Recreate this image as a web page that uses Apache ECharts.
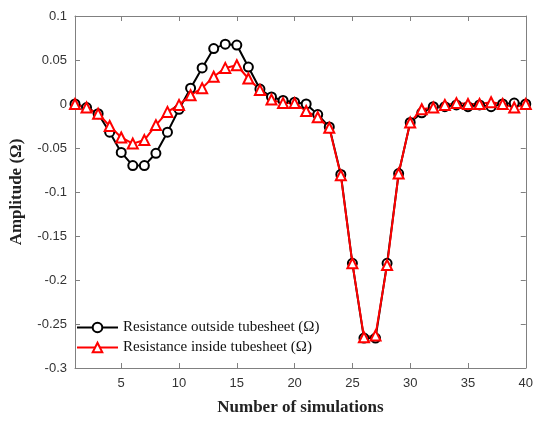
<!DOCTYPE html>
<html>
<head>
<meta charset="utf-8">
<script src="https://cdn.jsdelivr.net/npm/echarts@6/dist/echarts.min.js"></script>
<style>html,body{margin:0;padding:0;background:#fff;}#c{width:536px;height:421px;}</style>
</head>
<body>
<div id="c"></div>
<script>
const simulations = Array.from({length: 40}, (_, i) => i + 1);
const outsideValues = [0, -0.004, -0.011, -0.032, -0.055, -0.070, -0.070, -0.056, -0.032, -0.006,
  0.018, 0.041, 0.063, 0.068, 0.067, 0.042, 0.017, 0.008, 0.004, 0.002,
  0.000, -0.012, -0.026, -0.080, -0.181, -0.266, -0.266, -0.181, -0.079, -0.021,
  -0.010, -0.003, -0.003, -0.001, -0.003, -0.001, -0.003, 0.000, 0.001, 0.000];
const insideValues = [0, -0.004, -0.011, -0.025, -0.038, -0.045, -0.041, -0.024, -0.009, -0.001,
  0.010, 0.018, 0.031, 0.041, 0.044, 0.029, 0.016, 0.005, 0.001, 0.001,
  -0.008, -0.015, -0.027, -0.081, -0.181, -0.265, -0.263, -0.183, -0.079, -0.021,
  -0.006, -0.004, -0.001, 0.001, 0.000, 0.000, 0.002, 0.000, -0.004, 0.000];
const xTickLabels = [5, 10, 15, 20, 25, 30, 35, 40];
const yTicks = [-0.3, -0.25, -0.2, -0.15, -0.1, -0.05, 0, 0.05, 0.1];

const chart = echarts.init(document.getElementById('c'));
const axisLineStyle = {color: '#808080', width: 1};
const labelStyle = {fontFamily: 'Liberation Sans, Arial', fontSize: 13, color: '#333'};
chart.setOption({
  animation: false,
  grid: {left: 70, right: 9, top: 16, bottom: 45, containLabel: false},
  legend: {
    left: 71, top: 315, orient: 'vertical', itemWidth: 41, itemHeight: 12, itemGap: 5,
    textStyle: {fontFamily: 'Liberation Serif, Times New Roman', fontSize: 15, color: '#111'},
    data: ['Resistance outside tubesheet (Ω)', 'Resistance inside tubesheet (Ω)']
  },
  xAxis: [{
    type: 'value', min: 1, max: 40, position: 'bottom',
    name: 'Number of simulations', nameLocation: 'middle', nameGap: 31,
    nameTextStyle: {fontFamily: 'Liberation Serif, Times New Roman', fontWeight: 'bold', fontSize: 17, color: '#222'},
    axisLine: {show: true, onZero: false, lineStyle: axisLineStyle},
    axisTick: {show: true, inside: true, length: 5, customValues: xTickLabels, lineStyle: axisLineStyle},
    axisLabel: Object.assign({customValues: xTickLabels, margin: 9}, labelStyle),
    splitLine: {show: false}
  }, {
    type: 'value', min: 1, max: 40, position: 'top',
    axisLine: {show: true, onZero: false, lineStyle: axisLineStyle},
    axisTick: {show: true, inside: true, length: 5, customValues: xTickLabels, lineStyle: axisLineStyle},
    axisLabel: {show: false}, splitLine: {show: false}
  }],
  yAxis: [{
    type: 'value', min: -0.3, max: 0.1, interval: 0.05, position: 'left',
    name: 'Amplitude (Ω)', nameLocation: 'middle', nameGap: 50, nameRotate: 90,
    nameTextStyle: {fontFamily: 'Liberation Serif, Times New Roman', fontWeight: 'bold', fontSize: 17, color: '#222'},
    axisLine: {show: true, onZero: false, lineStyle: axisLineStyle},
    axisTick: {show: true, inside: true, length: 5, lineStyle: axisLineStyle},
    axisLabel: Object.assign({margin: 8, formatter: v => String(Math.round(v * 100) / 100)}, labelStyle),
    splitLine: {show: false}
  }, {
    type: 'value', min: -0.3, max: 0.1, interval: 0.05, position: 'right',
    axisLine: {show: true, onZero: false, lineStyle: axisLineStyle},
    axisTick: {show: true, inside: true, length: 5, lineStyle: axisLineStyle},
    axisLabel: {show: false}, splitLine: {show: false}
  }],
  series: [{
    name: 'Resistance outside tubesheet (Ω)', type: 'line',
    data: simulations.map((s, i) => [s, outsideValues[i]]),
    symbol: 'circle', symbolSize: 9, showAllSymbol: true,
    lineStyle: {color: '#000', width: 2},
    itemStyle: {color: '#fff', borderColor: '#000', borderWidth: 2},
    color: '#000'
  }, {
    name: 'Resistance inside tubesheet (Ω)', type: 'line',
    data: simulations.map((s, i) => [s, insideValues[i]]),
    symbol: 'triangle', symbolSize: 10, showAllSymbol: true,
    lineStyle: {color: '#ff0000', width: 2},
    itemStyle: {color: '#fff', borderColor: '#ff0000', borderWidth: 2},
    color: '#ff0000'
  }]
});
</script>
</body>
</html>
